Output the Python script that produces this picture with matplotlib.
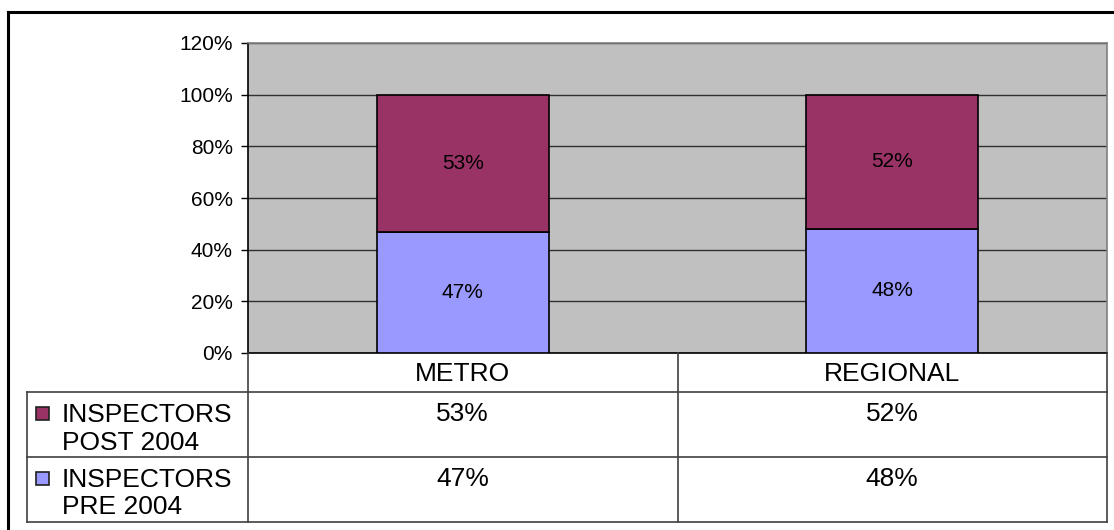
import numpy as np
import matplotlib
matplotlib.use("Agg")
import matplotlib.pyplot as plt
from matplotlib.patches import Rectangle

plt.rcParams['font.family'] = ['Liberation Sans', 'DejaVu Sans']

# Data
categories = ["METRO", "REGIONAL"]
pre_2004 = [47, 48]
post_2004 = [53, 52]
series_labels = ["INSPECTORS\nPOST 2004", "INSPECTORS\nPRE 2004"]
color_post = "#993366"
color_pre = "#9999FF"

W, H = 1114, 530
fig = plt.figure(figsize=(W / 100, H / 100), dpi=100)

# plot area (pixels)
pl, pr, pt, pb = 248, 1107, 43, 353
ax = fig.add_axes([pl / W, 1 - pb / H, (pr - pl) / W, (pb - pt) / H])
ax.set_facecolor("#C0C0C0")

x = np.arange(len(categories))
bars_pre = ax.bar(x, pre_2004, 0.4, color=color_pre, edgecolor="black", linewidth=1.2, zorder=3)
bars_post = ax.bar(x, post_2004, 0.4, bottom=pre_2004, color=color_post, edgecolor="black",
                   linewidth=1.2, zorder=3)

ax.bar_label(bars_pre, labels=[f"{v}%" for v in pre_2004], label_type="center", fontsize=15)
ax.bar_label(bars_post, labels=[f"{v}%" for v in post_2004], label_type="center", fontsize=15)

ax.set_xlim(-0.5, len(categories) - 0.5)
ax.set_ylim(0, 120)
ax.set_yticks(range(0, 121, 20))
ax.set_yticklabels([f"{v}%" for v in range(0, 121, 20)], fontsize=15)
ax.set_xticks([])
ax.yaxis.grid(True, color="#303030", linewidth=1, zorder=1)
ax.set_axisbelow(True)
ax.tick_params(axis="y", direction="out", length=5, width=1, pad=6)
ax.spines["left"].set_color("black")
ax.spines["bottom"].set_color("black")
ax.spines["top"].set_color("#808080")
ax.spines["right"].set_color("#808080")
for s in ax.spines.values():
    s.set_linewidth(1.2)

# Overlay in pixel coordinates for the data table and outer border
tax = fig.add_axes([0, 0, 1, 1])
tax.set_xlim(0, W)
tax.set_ylim(H, 0)
tax.axis("off")
tax.patch.set_alpha(0)

tl = 27
row_y = [353, 392, 457, 522]
mid = (pl + pr) / 2
col_edges = [pl, mid, pr]
col_centers = [(pl + mid) / 2, (mid + pr) / 2]
lc = "#404040"

# table grid
for y in row_y[1:]:
    tax.plot([tl, pr], [y, y], color=lc, lw=1.2)
for xe in col_edges:
    tax.plot([xe, xe], [row_y[0], row_y[-1]], color=lc, lw=1.2)
tax.plot([tl, tl], [row_y[1], row_y[-1]], color=lc, lw=1.2)

fs = 19
# header
for cx, name in zip(col_centers, categories):
    tax.text(cx, 381, name, ha="center", va="baseline", fontsize=fs)

# rows
row_values = [post_2004, pre_2004]
row_colors = [color_post, color_pre]
for i, (lab, vals, c) in enumerate(zip(series_labels, row_values, row_colors)):
    top = row_y[i + 1]
    tax.add_patch(Rectangle((36, top + 15), 13, 13, facecolor=c, edgecolor="#202020", lw=1.2))
    for j, line in enumerate(lab.split("\n")):
        tax.text(62, top + 30 + j * 27.5, line, ha="left", va="baseline", fontsize=fs)
    for cx, v in zip(col_centers, vals):
        tax.text(cx, top + 29, f"{v}%", ha="center", va="baseline", fontsize=fs)

# outer border
tax.plot([8, 8], [12, H], color="black", lw=2.2)
tax.plot([8, W], [12, 12], color="black", lw=2.2)

fig.savefig("out.png", dpi=100)
